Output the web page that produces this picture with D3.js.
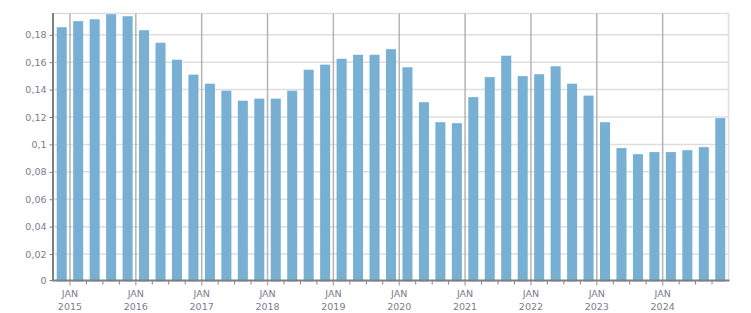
<!DOCTYPE html>
<html>
<head>
<meta charset="utf-8">
<script src="https://cdn.jsdelivr.net/npm/d3@7"></script>
<style>
    html, body { margin: 0; padding: 0; background: #fff; }
    svg { display: block; }
</style>
</head>
<body>
<div id="chart"></div>
<script>
// quarterly periods, first month of each quarter
const quarters = [
    "2014-10",
    "2015-01", "2015-04", "2015-07", "2015-10",
    "2016-01", "2016-04", "2016-07", "2016-10",
    "2017-01", "2017-04", "2017-07", "2017-10",
    "2018-01", "2018-04", "2018-07", "2018-10",
    "2019-01", "2019-04", "2019-07", "2019-10",
    "2020-01", "2020-04", "2020-07", "2020-10",
    "2021-01", "2021-04", "2021-07", "2021-10",
    "2022-01", "2022-04", "2022-07", "2022-10",
    "2023-01", "2023-04", "2023-07", "2023-10",
    "2024-01", "2024-04", "2024-07", "2024-10",
];

const values = [
    0.1855,
    0.1899, 0.1913, 0.1950, 0.1935,
    0.1833, 0.1742, 0.1618, 0.1509,
    0.1443, 0.1392, 0.1319, 0.1334,
    0.1334, 0.1392, 0.1545, 0.1582,
    0.1625, 0.1654, 0.1654, 0.1695,
    0.1563, 0.1308, 0.1162, 0.1155,
    0.1345, 0.1491, 0.1647, 0.1498,
    0.1512, 0.1570, 0.1443, 0.1356,
    0.1162, 0.0973, 0.0929, 0.0944,
    0.0944, 0.0958, 0.0980, 0.1192,
];

const yTicks = [0, 0.02, 0.04, 0.06, 0.08, 0.1, 0.12, 0.14, 0.16, 0.18];
const monthLabel = "JAN";

const width = 751;
const height = 313;
const margin = { top: 13.5, right: 22.5, bottom: 31.5, left: 53.5 };

const barColor = "#78b0d3";
const gridColor = "#dedede";
const yearLineColor = "#b4b4b4";
const axisColor = "#808080";
const labelColor = "#7c7c8c";

const locale = d3.formatLocale({
    decimal: ",",
    thousands: ".",
    grouping: [3],
    currency: ["", ""],
});
const fmt = locale.format(".2~f");

const x = d3
    .scaleBand()
    .domain(quarters)
    .range([margin.left, width - margin.right])
    .paddingInner(0.39)
    .paddingOuter(0.195);

const y = d3
    .scaleLinear()
    .domain([0, 0.1955])
    .range([height - margin.bottom, margin.top]);

// left edge of a quarter cell
const cellStart = (q) => x(q) - (x.step() * x.paddingInner()) / 2;

const svg = d3
    .select("#chart")
    .append("svg")
    .attr("width", width)
    .attr("height", height)
    .attr("font-family", "'DejaVu Sans', Verdana, sans-serif")
    .attr("font-size", 9.5);

const plotRight = width - margin.right;
const axisY = height - margin.bottom - 1;

// horizontal grid
svg.append("g")
    .selectAll("line")
    .data(yTicks.filter((d) => d > 0))
    .join("line")
    .attr("x1", margin.left)
    .attr("x2", plotRight)
    .attr("y1", (d) => y(d))
    .attr("y2", (d) => y(d))
    .attr("stroke", gridColor)
    .attr("stroke-width", 1.5);

// frame top and right
svg.append("path")
    .attr("d", `M${margin.left},${margin.top}H${plotRight}V${axisY}`)
    .attr("fill", "none")
    .attr("stroke", gridColor)
    .attr("stroke-width", 1.5);

// year lines at each january
const januaries = quarters.filter((q) => q.endsWith("-01"));

svg.append("g")
    .selectAll("line")
    .data(januaries)
    .join("line")
    .attr("x1", (d) => cellStart(d))
    .attr("x2", (d) => cellStart(d))
    .attr("y1", margin.top)
    .attr("y2", axisY + 5)
    .attr("stroke", yearLineColor)
    .attr("stroke-width", 1.5);

// bars
svg.append("g")
    .selectAll("rect")
    .data(values)
    .join("rect")
    .attr("x", (d, i) => x(quarters[i]))
    .attr("width", x.bandwidth())
    .attr("y", (d) => y(d))
    .attr("height", (d) => y(0) - y(d))
    .attr("fill", barColor);

// y axis
const yAxis = svg
    .append("g")
    .attr("transform", `translate(${margin.left},0)`)
    .call(
        d3.axisLeft(y).tickValues(yTicks).tickSize(4).tickPadding(3).tickFormat(fmt),
    );
yAxis.select(".domain").remove();
yAxis.selectAll(".tick line").attr("stroke", axisColor);
yAxis.selectAll(".tick").filter((d) => d === 0).attr("transform", `translate(0,${axisY})`);
yAxis
    .selectAll(".tick text")
    .attr("fill", labelColor)
    .attr("font-family", "'DejaVu Sans', Verdana, sans-serif")
    .attr("font-size", 9.5);

// quarter ticks below the axis
svg.append("g")
    .selectAll("line")
    .data(quarters.filter((q) => !q.endsWith("-01") && q !== quarters[0]))
    .join("line")
    .attr("x1", (d) => cellStart(d))
    .attr("x2", (d) => cellStart(d))
    .attr("y1", axisY)
    .attr("y2", axisY + 4)
    .attr("stroke", axisColor);

// axis lines
svg.append("path")
    .attr("d", `M${margin.left - 0.5},${margin.top - 0.5}V${axisY}H${plotRight + 1}`)
    .attr("fill", "none")
    .attr("stroke", axisColor)
    .attr("stroke-width", 2);

// x labels
const xLabels = svg
    .append("g")
    .selectAll("text")
    .data(januaries)
    .join("text")
    .attr("x", (d) => cellStart(d))
    .attr("text-anchor", "middle")
    .attr("fill", labelColor);

xLabels.append("tspan").attr("x", (d) => cellStart(d)).attr("y", 296.5).text(monthLabel);
xLabels.append("tspan").attr("x", (d) => cellStart(d)).attr("y", 310).text((d) => d.slice(0, 4));
</script>
</body>
</html>
